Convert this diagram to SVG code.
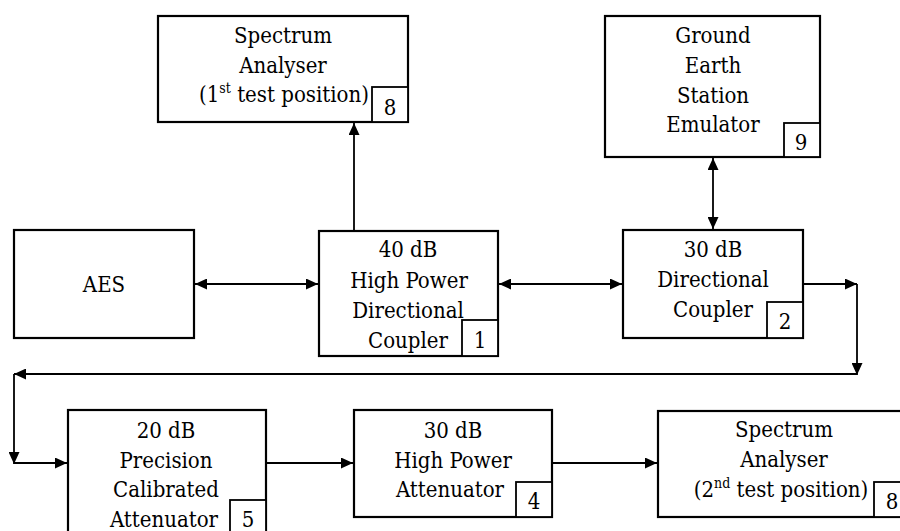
<svg xmlns="http://www.w3.org/2000/svg" width="900" height="531" viewBox="0 0 900 531">
<defs>
<marker id="ah" markerUnits="userSpaceOnUse" markerWidth="13" markerHeight="11" refX="12" refY="5.5" orient="auto-start-reverse" viewBox="0 0 13 11">
<path d="M0,0 L12,5.5 L0,11 z" fill="#000"/>
</marker>
<style>
.box{fill:#fff;stroke:#000;stroke-width:2.2}
.num{fill:#fff;stroke:#000;stroke-width:1.8}
.sup{font-size:14px}
.c{fill:none;stroke:#000;stroke-width:1.8}
</style>
</defs>
<rect width="900" height="531" fill="#fff"/>
<g id="connectors">
<line class="c" x1="354" y1="231" x2="354" y2="123" marker-end="url(#ah)"/>
<line class="c" x1="195" y1="284" x2="318" y2="284" marker-start="url(#ah)" marker-end="url(#ah)"/>
<line class="c" x1="499" y1="284" x2="622" y2="284" marker-start="url(#ah)" marker-end="url(#ah)"/>
<line class="c" x1="713" y1="158" x2="713" y2="229" marker-start="url(#ah)" marker-end="url(#ah)"/>
<line class="c" x1="803" y1="284" x2="857" y2="284" marker-end="url(#ah)"/>
<line class="c" x1="857" y1="284" x2="857" y2="375" marker-end="url(#ah)"/>
<line class="c" x1="857" y1="374" x2="14" y2="374" marker-end="url(#ah)"/>
<line class="c" x1="14" y1="374" x2="14" y2="464" marker-end="url(#ah)"/>
<line class="c" x1="14" y1="463" x2="67" y2="463" marker-end="url(#ah)"/>
<line class="c" x1="266" y1="463" x2="353" y2="463" marker-end="url(#ah)"/>
<line class="c" x1="552" y1="463" x2="657" y2="463" marker-end="url(#ah)"/>
</g>
<g font-family="DejaVu Serif Condensed, DejaVu Serif, serif" font-stretch="condensed" font-size="22" text-anchor="middle" fill="#000">
<g id="spectrum1">
<rect class="box" x="158" y="16" width="250" height="106"/>
<text x="283" y="43">Spectrum</text>
<text x="283" y="73">Analyser</text>
<text x="284" y="102">(1<tspan class="sup" dy="-9">st</tspan><tspan dy="9"> test position)</tspan></text>
<rect class="num" x="372" y="87" width="36" height="35"/>
<text x="390" y="115">8</text>
</g>
<g id="ground">
<rect class="box" x="605" y="16" width="215" height="141"/>
<text x="713" y="43">Ground</text>
<text x="713" y="73">Earth</text>
<text x="713" y="103">Station</text>
<text x="713" y="132">Emulator</text>
<rect class="num" x="784" y="123" width="36" height="34"/>
<text x="801" y="150">9</text>
</g>
<g id="aes">
<rect class="box" x="14" y="230" width="180" height="108"/>
<text x="104" y="292">AES</text>
</g>
<g id="coupler40">
<rect class="box" x="319" y="231" width="179" height="125"/>
<text x="408" y="257">40 dB</text>
<text x="409" y="288">High Power</text>
<text x="408" y="318">Directional</text>
<text x="408" y="348">Coupler</text>
<rect class="num" x="462" y="320" width="36" height="36"/>
<text x="480" y="348">1</text>
</g>
<g id="coupler30">
<rect class="box" x="623" y="230" width="180" height="108"/>
<text x="713" y="257">30 dB</text>
<text x="713" y="287">Directional</text>
<text x="713" y="317">Coupler</text>
<rect class="num" x="767" y="302" width="36" height="36"/>
<text x="785" y="329">2</text>
</g>
<g id="att20">
<rect class="box" x="68" y="410" width="198" height="130"/>
<text x="166" y="438">20 dB</text>
<text x="166" y="468">Precision</text>
<text x="166" y="497">Calibrated</text>
<text x="164" y="527">Attenuator</text>
<rect class="num" x="230" y="500" width="36" height="40"/>
<text x="248" y="527">5</text>
</g>
<g id="att30">
<rect class="box" x="354" y="410" width="198" height="107"/>
<text x="453" y="438">30 dB</text>
<text x="453" y="468">High Power</text>
<text x="450" y="497">Attenuator</text>
<rect class="num" x="516" y="482" width="36" height="35"/>
<text x="534" y="509">4</text>
</g>
<g id="spectrum2">
<rect class="box" x="658" y="411" width="253" height="106"/>
<text x="784" y="437">Spectrum</text>
<text x="784" y="467">Analyser</text>
<text x="781" y="497">(2<tspan class="sup" dy="-9">nd</tspan><tspan dy="9"> test position)</tspan></text>
<rect class="num" x="874" y="482" width="36" height="35"/>
<text x="892" y="509">8</text>
</g>
</g>
</svg>
